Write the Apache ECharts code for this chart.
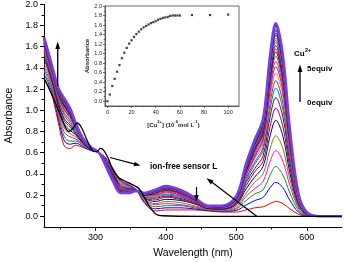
<!DOCTYPE html>
<html><head><meta charset="utf-8">
<script src="https://cdn.jsdelivr.net/npm/echarts@6/dist/echarts.min.js"></script>
<style>html,body{margin:0;padding:0;background:#fff}#c{width:345px;height:262px}</style>
</head><body><div id="c"></div>
<script>
// ---------------- data ----------------
const wavelengths = [227,233,240,248,256,264,272,282,294,305,315,325,336,348,358,370,385,400,420,440,460,480,500,514,526,538,548,556,566,576,588,600,620,650];

const sensorWavelengths = [227,233,240,248,256,262,268,274,280,288,296,302,307,312,318,324,332,341,349,355,362,370,378,386,395,450,650];
const sensorL = [1.30,1.22,1.12,0.99,0.86,0.80,0.83,0.88,0.84,0.72,0.62,0.61,0.64,0.62,0.55,0.45,0.37,0.335,0.31,0.29,0.26,0.17,0.08,0.02,0.005,0.0,0.0];

const cuSpectra = [
[1.30,1.23,1.10,0.86,0.66,0.64,0.67,0.65,0.62,0.60,0.55,0.45,0.34,0.30,0.25,0.12,0.05,0.06,0.06,0.06,0.05,0.04,0.04,0.06,0.08,0.09,0.12,0.14,0.12,0.07,0.02,0.00,0,0],
[1.34,1.26,1.13,0.90,0.71,0.68,0.69,0.66,0.62,0.60,0.54,0.44,0.33,0.29,0.25,0.13,0.07,0.08,0.08,0.07,0.055,0.046,0.056,0.107,0.148,0.179,0.27,0.32,0.27,0.15,0.04,0.004,0,0],
[1.38,1.29,1.16,0.93,0.75,0.71,0.71,0.67,0.63,0.60,0.53,0.43,0.32,0.28,0.25,0.14,0.09,0.10,0.10,0.08,0.06,0.05,0.07,0.15,0.21,0.25,0.39,0.47,0.39,0.22,0.06,0.008,0,0],
[1.41,1.32,1.18,0.96,0.79,0.75,0.73,0.68,0.63,0.60,0.53,0.42,0.31,0.28,0.25,0.15,0.11,0.12,0.11,0.09,0.064,0.057,0.08,0.19,0.26,0.33,0.52,0.62,0.52,0.29,0.08,0.011,0,0],
[1.44,1.35,1.20,0.99,0.83,0.78,0.75,0.68,0.63,0.60,0.52,0.41,0.30,0.27,0.25,0.16,0.12,0.14,0.13,0.10,0.068,0.062,0.095,0.22,0.32,0.40,0.64,0.76,0.64,0.35,0.09,0.015,0,0],
[1.48,1.38,1.23,1.02,0.87,0.81,0.77,0.69,0.63,0.60,0.51,0.40,0.29,0.26,0.25,0.17,0.14,0.16,0.15,0.12,0.073,0.067,0.11,0.26,0.37,0.47,0.76,0.905,0.76,0.41,0.11,0.018,0,0],
[1.50,1.40,1.25,1.04,0.90,0.84,0.78,0.70,0.64,0.60,0.51,0.39,0.28,0.26,0.245,0.17,0.155,0.18,0.16,0.12,0.076,0.071,0.12,0.29,0.42,0.52,0.85,1.02,0.85,0.46,0.125,0.021,0,0],
[1.53,1.42,1.26,1.06,0.92,0.86,0.79,0.70,0.64,0.60,0.50,0.38,0.27,0.25,0.245,0.18,0.17,0.19,0.17,0.13,0.079,0.075,0.127,0.32,0.45,0.57,0.94,1.12,0.94,0.51,0.14,0.023,0,0],
[1.55,1.43,1.28,1.08,0.95,0.88,0.80,0.71,0.64,0.60,0.50,0.37,0.26,0.25,0.244,0.18,0.18,0.20,0.18,0.14,0.082,0.078,0.136,0.34,0.49,0.62,1.01,1.21,1.01,0.55,0.15,0.025,0,0],
[1.56,1.45,1.29,1.09,0.97,0.90,0.81,0.71,0.64,0.60,0.50,0.37,0.26,0.25,0.243,0.19,0.19,0.21,0.19,0.14,0.084,0.081,0.142,0.36,0.51,0.65,1.07,1.28,1.07,0.58,0.16,0.027,0,0],
[1.58,1.46,1.30,1.11,0.98,0.91,0.82,0.72,0.64,0.60,0.49,0.36,0.25,0.24,0.243,0.19,0.19,0.22,0.20,0.15,0.086,0.083,0.148,0.38,0.54,0.69,1.13,1.35,1.13,0.61,0.16,0.029,0,0],
[1.60,1.47,1.31,1.12,1.00,0.93,0.83,0.72,0.64,0.60,0.49,0.36,0.25,0.24,0.242,0.20,0.20,0.23,0.20,0.15,0.088,0.085,0.153,0.39,0.56,0.72,1.18,1.41,1.18,0.64,0.17,0.030,0,0],
[1.61,1.48,1.32,1.13,1.01,0.94,0.84,0.72,0.64,0.60,0.49,0.36,0.25,0.24,0.242,0.20,0.21,0.24,0.21,0.15,0.089,0.087,0.158,0.41,0.58,0.74,1.22,1.46,1.22,0.66,0.18,0.031,0,0],
[1.62,1.49,1.33,1.14,1.03,0.95,0.84,0.72,0.64,0.60,0.49,0.35,0.24,0.24,0.242,0.20,0.21,0.24,0.22,0.16,0.091,0.089,0.162,0.42,0.60,0.77,1.26,1.51,1.26,0.68,0.18,0.033,0,0],
[1.63,1.50,1.34,1.15,1.04,0.96,0.85,0.73,0.645,0.60,0.48,0.35,0.24,0.23,0.242,0.20,0.22,0.25,0.22,0.16,0.092,0.090,0.166,0.43,0.62,0.79,1.30,1.55,1.30,0.70,0.19,0.034,0,0],
[1.635,1.50,1.34,1.15,1.05,0.97,0.85,0.73,0.645,0.60,0.48,0.35,0.24,0.23,0.241,0.21,0.22,0.25,0.22,0.16,0.093,0.091,0.169,0.44,0.63,0.80,1.32,1.58,1.32,0.71,0.19,0.034,0,0],
[1.64,1.51,1.35,1.16,1.05,0.97,0.85,0.73,0.646,0.60,0.48,0.345,0.235,0.23,0.241,0.21,0.225,0.257,0.226,0.165,0.094,0.092,0.171,0.445,0.64,0.82,1.35,1.61,1.35,0.73,0.195,0.035,0,0],
[1.65,1.52,1.35,1.16,1.06,0.98,0.86,0.73,0.647,0.60,0.48,0.343,0.233,0.229,0.241,0.209,0.229,0.261,0.23,0.167,0.095,0.094,0.174,0.453,0.652,0.831,1.37,1.64,1.37,0.74,0.199,0.035,0,0],
[1.655,1.52,1.355,1.17,1.07,0.98,0.86,0.73,0.647,0.60,0.478,0.341,0.231,0.228,0.241,0.211,0.231,0.264,0.232,0.169,0.095,0.094,0.176,0.458,0.659,0.841,1.387,1.66,1.387,0.749,0.201,0.036,0,0],
[1.66,1.523,1.357,1.172,1.073,0.988,0.863,0.733,0.648,0.60,0.477,0.34,0.23,0.227,0.241,0.212,0.233,0.266,0.234,0.17,0.096,0.095,0.178,0.463,0.667,0.851,1.404,1.68,1.404,0.758,0.203,0.036,0,0],
[1.665,1.53,1.362,1.178,1.081,0.995,0.866,0.734,0.648,0.60,0.475,0.338,0.228,0.225,0.241,0.214,0.237,0.27,0.238,0.172,0.097,0.096,0.18,0.471,0.678,0.866,1.429,1.71,1.429,0.771,0.207,0.037,0,0],
[1.669,1.533,1.365,1.182,1.086,1.0,0.869,0.735,0.648,0.60,0.474,0.336,0.226,0.224,0.241,0.215,0.239,0.273,0.24,0.174,0.097,0.097,0.182,0.477,0.686,0.876,1.446,1.73,1.446,0.78,0.209,0.038,0,0],
[1.674,1.537,1.369,1.186,1.092,1.004,0.871,0.736,0.649,0.60,0.473,0.335,0.225,0.223,0.24,0.216,0.242,0.276,0.242,0.175,0.098,0.098,0.184,0.482,0.694,0.886,1.463,1.75,1.463,0.789,0.212,0.038,0,0],
[1.676,1.538,1.37,1.188,1.094,1.006,0.872,0.737,0.649,0.60,0.473,0.334,0.224,0.223,0.24,0.216,0.243,0.277,0.243,0.176,0.098,0.098,0.185,0.484,0.697,0.89,1.47,1.76,1.47,0.793,0.213,0.039,0,0],
[1.679,1.541,1.372,1.19,1.097,1.009,0.874,0.737,0.649,0.60,0.472,0.333,0.223,0.222,0.24,0.217,0.244,0.278,0.244,0.177,0.099,0.098,0.186,0.487,0.701,0.896,1.479,1.77,1.479,0.798,0.214,0.039,0,0],
[1.683,1.545,1.375,1.194,1.102,1.014,0.876,0.738,0.65,0.60,0.471,0.332,0.222,0.221,0.24,0.218,0.247,0.281,0.247,0.178,0.099,0.099,0.187,0.493,0.709,0.906,1.496,1.79,1.496,0.807,0.217,0.039,0,0],
[1.685,1.546,1.377,1.196,1.105,1.015,0.877,0.739,0.65,0.60,0.471,0.331,0.221,0.221,0.24,0.219,0.248,0.282,0.248,0.179,0.099,0.099,0.188,0.495,0.712,0.91,1.503,1.80,1.503,0.811,0.218,0.04,0,0],
[1.687,1.545,1.379,1.197,1.107,1.016,0.877,0.739,0.65,0.60,0.471,0.331,0.221,0.221,0.24,0.219,0.249,0.284,0.248,0.179,0.099,0.099,0.188,0.496,0.713,0.911,1.505,1.80,1.50,0.81,0.218,0.04,0,0],
[1.684,1.547,1.376,1.195,1.104,1.014,0.876,0.738,0.65,0.60,0.471,0.331,0.221,0.221,0.24,0.219,0.247,0.281,0.247,0.179,0.099,0.099,0.188,0.494,0.711,0.909,1.50,1.80,1.506,0.812,0.219,0.04,0,0],
[1.686,1.546,1.378,1.196,1.106,1.016,0.878,0.739,0.65,0.60,0.47,0.331,0.221,0.221,0.24,0.219,0.248,0.283,0.248,0.179,0.099,0.099,0.189,0.495,0.712,0.91,1.502,1.80,1.504,0.811,0.218,0.04,0,0],
[1.688,1.548,1.379,1.198,1.108,1.018,0.879,0.74,0.65,0.60,0.47,0.331,0.221,0.22,0.24,0.22,0.249,0.284,0.249,0.179,0.10,0.10,0.189,0.498,0.717,0.916,1.513,1.81,1.513,0.816,0.219,0.04,0,0],
[1.689,1.549,1.38,1.199,1.109,1.019,0.88,0.74,0.65,0.60,0.47,0.33,0.22,0.22,0.24,0.22,0.25,0.285,0.25,0.18,0.10,0.10,0.19,0.499,0.718,0.918,1.515,1.81,1.515,0.817,0.22,0.04,0,0],
[1.69,1.55,1.38,1.20,1.11,1.02,0.88,0.74,0.65,0.60,0.47,0.33,0.22,0.22,0.24,0.22,0.25,0.285,0.25,0.18,0.10,0.10,0.19,0.50,0.72,0.92,1.52,1.82,1.52,0.82,0.22,0.04,0,0]
];

// inset: absorbance at 556 nm vs [Cu2+]
const cuConc = [0,2,4,6,8,10,12,14,16,18,20,22,24,26,28,30,32,34,36,38,40,42,44,46,48,50,52,54,56,58,60,70,85,100];
const a556 = [0,0.14,0.32,0.47,0.62,0.76,0.905,1.02,1.12,1.21,1.28,1.35,1.41,1.46,1.51,1.55,1.58,1.61,1.64,1.66,1.68,1.71,1.73,1.75,1.76,1.77,1.79,1.80,1.80,1.80,1.80,1.81,1.81,1.82];

// tick labels
const xMajorTicks = [300,400,500,600];
const xMinorTicks = [250,350,450,550];
const yMajorTicks = [0,0.2,0.4,0.6,0.8,1.0,1.2,1.4,1.6,1.8,2.0];
const yMinorTicks = [0.1,0.3,0.5,0.7,0.9,1.1,1.3,1.5,1.7,1.9];
const insetXTicks = [0,20,40,60,80,100];
const insetXMinor = [10,30,50,70,90];
const insetYTicks = [0,0.2,0.4,0.6,0.8,1.0,1.2,1.4,1.6,1.8,2.0];
const insetYMinor = [0.1,0.3,0.5,0.7,0.9,1.1,1.3,1.5,1.7,1.9];

// ---------------- styling ----------------
const palette = ['#000000','#ff0000','#0000ff','#00a000','#ff00ff','#808000','#000080','#800080','#800000','#008080','#3f48cc','#ff8000','#8000ff','#ff0080','#555555'];
const FF = 'Liberation Sans, Arial, sans-serif';

cuSpectra.forEach((r,i)=>{ if (r.length !== wavelengths.length) throw new Error('row '+i+' length '+r.length); });

const series = [];
cuSpectra.forEach((row, i) => {
  const idx = i + 1;
  let color = palette[idx % palette.length];
  let width = 1;
  if (idx === cuSpectra.length) { color = '#7040f0'; width = 2.6; }
  else if (idx === cuSpectra.length - 1) { color = '#3030ff'; width = 1.4; }
  series.push({
    type: 'line', xAxisIndex: 0, yAxisIndex: 0, silent: true,
    data: wavelengths.map((w, j) => [w, row[j]]),
    symbol: 'none', smooth: 0.35,
    lineStyle: { width: width, color: color }
  });
});
series.push({
  type: 'line', xAxisIndex: 0, yAxisIndex: 0, silent: true,
  data: sensorWavelengths.map((w, j) => [w, sensorL[j]]),
  symbol: 'none', smooth: 0.35, z: 5,
  lineStyle: { width: 1.3, color: '#000' }
});
series.push({
  type: 'scatter', xAxisIndex: 2, yAxisIndex: 2, silent: true, z: 30,
  data: cuConc.map((c, i) => [c, a556[i]]),
  symbol: 'rect', symbolSize: 2.2, itemStyle: { color: '#111' }
});

const axisCommon = { type: 'value', splitLine: { show: false } };

const option = {
  animation: false,
  backgroundColor: '#fff',
  grid: [
    { left: 44, right: 3, top: 4.3, bottom: 35.1, outerBoundsMode: 'none', containLabel: false },
    { left: 105, right: 106, top: 6, bottom: 156, outerBoundsMode: 'none', containLabel: false, show: true, backgroundColor: 'rgba(255,255,255,0)', borderColor: '#444', borderWidth: 0.8 }
  ],
  xAxis: [
    Object.assign({}, axisCommon, { gridIndex: 0, min: 227, max: 650, position: 'bottom',
      axisLine: { onZero: false, lineStyle: { color: '#000', width: 1 } },
      axisTick: { customValues: xMajorTicks, length: 4, lineStyle: { color: '#000' } },
      axisLabel: { customValues: xMajorTicks, fontSize: 9, color: '#000', margin: 6, fontFamily: FF },
      name: 'Wavelength (nm)', nameLocation: 'middle', nameGap: 21,
      nameTextStyle: { fontSize: 10.5, color: '#000', fontFamily: FF } }),
    Object.assign({}, axisCommon, { gridIndex: 0, min: 227, max: 650, position: 'bottom',
      axisLine: { show: false, onZero: false },
      axisTick: { customValues: xMinorTicks, length: 2.5, lineStyle: { color: '#000' } },
      axisLabel: { show: false } }),
    Object.assign({}, axisCommon, { gridIndex: 1, min: -2, max: 109, position: 'bottom',
      axisLine: { onZero: false, lineStyle: { color: '#444', width: 0.8 } },
      axisTick: { customValues: insetXTicks, length: 2, lineStyle: { color: '#444', width: 0.8 } },
      axisLabel: { customValues: insetXTicks, fontSize: 5.5, color: '#222', margin: 3.5, fontFamily: FF },
      name: '[Cu{s|2+}] (10{s|-6}mol L{s|-1})', nameLocation: 'middle', nameGap: 14,
      nameTextStyle: { fontSize: 6, fontWeight: 'bold', color: '#222', fontFamily: FF, lineHeight: 10, padding: [0, 0, 0, 3],
        rich: { s: { fontSize: 4.2, fontWeight: 'bold', color: '#222', verticalAlign: 'top', lineHeight: 10, fontFamily: FF } } } }),
    Object.assign({}, axisCommon, { gridIndex: 1, min: -2, max: 109, position: 'bottom',
      axisLine: { show: false, onZero: false },
      axisTick: { customValues: insetXMinor, length: 1.2, lineStyle: { color: '#444', width: 0.8 } },
      axisLabel: { show: false } })
  ],
  yAxis: [
    Object.assign({}, axisCommon, { gridIndex: 0, min: -0.1, max: 2.0, position: 'left',
      axisLine: { show: true, onZero: false, lineStyle: { color: '#000', width: 1 } },
      axisTick: { show: true, customValues: yMajorTicks, length: 4, lineStyle: { color: '#000' } },
      axisLabel: { customValues: yMajorTicks, fontSize: 9, color: '#000', margin: 6, fontFamily: FF,
        formatter: v => v.toFixed(1) },
      name: 'Absorbance', nameLocation: 'middle', nameGap: 29, nameRotate: 90,
      nameTextStyle: { fontSize: 10.5, color: '#000', fontFamily: FF } }),
    Object.assign({}, axisCommon, { gridIndex: 0, min: -0.1, max: 2.0, position: 'left',
      axisLine: { show: false, onZero: false },
      axisTick: { show: true, customValues: yMinorTicks, length: 2.5, lineStyle: { color: '#000' } },
      axisLabel: { show: false } }),
    Object.assign({}, axisCommon, { gridIndex: 1, min: -0.1, max: 2.0, position: 'left',
      axisLine: { show: true, onZero: false, lineStyle: { color: '#444', width: 0.8 } },
      axisTick: { show: true, customValues: insetYTicks, length: 2, lineStyle: { color: '#444', width: 0.8 } },
      axisLabel: { customValues: insetYTicks, fontSize: 5.5, color: '#222', margin: 3, fontFamily: FF,
        formatter: v => v.toFixed(1) },
      name: 'Absorbance', nameLocation: 'middle', nameGap: 14, nameRotate: 90,
      nameTextStyle: { fontSize: 6, fontWeight: 'bold', color: '#222', fontFamily: FF } }),
    Object.assign({}, axisCommon, { gridIndex: 1, min: -0.1, max: 2.0, position: 'left',
      axisLine: { show: false, onZero: false },
      axisTick: { show: true, customValues: insetYMinor, length: 1.2, lineStyle: { color: '#444', width: 0.8 } },
      axisLabel: { show: false } })
  ],
  series: series,
  graphic: [
    { type: 'line', shape: { x1: 57.7, y1: 86, x2: 57.7, y2: 47 }, style: { stroke: '#000', lineWidth: 1.3 }, z: 100 },
    { type: 'polygon', shape: { points: [[57.7, 41.5], [55.3, 49], [60.1, 49]] }, style: { fill: '#000' }, z: 100 },
    { type: 'line', shape: { x1: 300, y1: 102, x2: 300, y2: 70 }, style: { stroke: '#000', lineWidth: 1.3 }, z: 100 },
    { type: 'polygon', shape: { points: [[300, 64.5], [297.6, 72], [302.4, 72]] }, style: { fill: '#000' }, z: 100 },
    { type: 'line', shape: { x1: 196.5, y1: 187, x2: 196.5, y2: 196 }, style: { stroke: '#000', lineWidth: 1.2 }, z: 100 },
    { type: 'polygon', shape: { points: [[196.5, 201.5], [194.3, 195], [198.7, 195]] }, style: { fill: '#000' }, z: 100 },
    { type: 'line', shape: { x1: 110, y1: 157.5, x2: 135, y2: 164.2 }, style: { stroke: '#000', lineWidth: 1.2 }, z: 100 },
    { type: 'polygon', shape: { points: [[140.5, 165.6], [133.6, 166.3], [134.8, 161.8]] }, style: { fill: '#000' }, z: 100 },
    { type: 'line', shape: { x1: 257, y1: 216.5, x2: 211, y2: 181.5 }, style: { stroke: '#000', lineWidth: 1.2 }, z: 100 },
    { type: 'polygon', shape: { points: [[206.5, 178.3], [213.6, 180.6], [210.7, 184.4]] }, style: { fill: '#000' }, z: 100 },
    { type: 'text', z: 100, style: { text: 'ion-free sensor L', x: 150, y: 167, font: 'bold 8.3px ' + FF, fill: '#000', verticalAlign: 'middle', textVerticalAlign: 'middle' } },
    { type: 'text', z: 100, style: { text: 'Cu', x: 294, y: 54, font: 'bold 8px ' + FF, fill: '#000', verticalAlign: 'middle', textVerticalAlign: 'middle' } },
    { type: 'text', z: 100, style: { text: '2+', x: 305, y: 50, font: 'bold 5.5px ' + FF, fill: '#000', verticalAlign: 'middle', textVerticalAlign: 'middle' } },
    { type: 'text', z: 100, style: { text: '5equiv', x: 307, y: 69, font: 'bold 8px ' + FF, fill: '#000', verticalAlign: 'middle', textVerticalAlign: 'middle' } },
    { type: 'text', z: 100, style: { text: '0equiv', x: 307, y: 103, font: 'bold 8px ' + FF, fill: '#000', verticalAlign: 'middle', textVerticalAlign: 'middle' } }
  ]
};

const chart = echarts.init(document.getElementById('c'), null, { renderer: 'canvas' });
chart.setOption(option);
</script>
</body></html>
